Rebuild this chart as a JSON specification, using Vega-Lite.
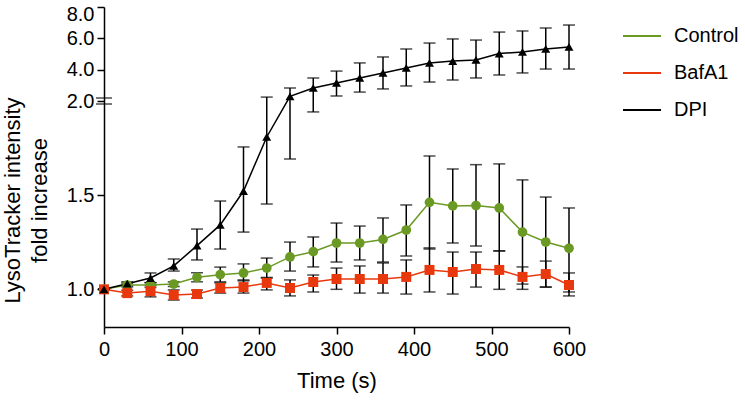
{
  "$schema": "https://vega.github.io/schema/vega-lite/v6.json",
  "width": 465,
  "height": 320,
  "autosize": {"type": "none"},
  "padding": {"left": 104, "top": 7, "right": 176, "bottom": 78},
  "config": {
    "view": {"stroke": null},
    "font": "Liberation Sans",
    "axis": {"domainColor": "black", "domainWidth": 1.5, "tickColor": "black", "tickWidth": 1.5, "tickSize": 7, "labelColor": "black", "titleColor": "black", "labelFontSize": 20, "titleFontSize": 22, "titleFontWeight": "normal", "grid": false}
  },
  "datasets": {
    "main": [
      {"series": "Control", "t": 0, "y": 1.0, "lo": 1.0, "hi": 1.0},
      {"series": "Control", "t": 30, "y": 1.023, "lo": 1.013, "hi": 1.033},
      {"series": "Control", "t": 60, "y": 1.023, "lo": 1.01, "hi": 1.036},
      {"series": "Control", "t": 90, "y": 1.028, "lo": 1.015, "hi": 1.04},
      {"series": "Control", "t": 120, "y": 1.064, "lo": 1.04, "hi": 1.088},
      {"series": "Control", "t": 150, "y": 1.078, "lo": 1.04, "hi": 1.118},
      {"series": "Control", "t": 180, "y": 1.087, "lo": 1.045, "hi": 1.135},
      {"series": "Control", "t": 210, "y": 1.113, "lo": 1.063, "hi": 1.166},
      {"series": "Control", "t": 240, "y": 1.172, "lo": 1.097, "hi": 1.251},
      {"series": "Control", "t": 270, "y": 1.2, "lo": 1.119, "hi": 1.278},
      {"series": "Control", "t": 300, "y": 1.246, "lo": 1.145, "hi": 1.352},
      {"series": "Control", "t": 330, "y": 1.246, "lo": 1.156, "hi": 1.336},
      {"series": "Control", "t": 360, "y": 1.265, "lo": 1.145, "hi": 1.379},
      {"series": "Control", "t": 390, "y": 1.315, "lo": 1.177, "hi": 1.448},
      {"series": "Control", "t": 420, "y": 1.462, "lo": 1.214, "hi": 1.708},
      {"series": "Control", "t": 450, "y": 1.443, "lo": 1.246, "hi": 1.639},
      {"series": "Control", "t": 480, "y": 1.445, "lo": 1.23, "hi": 1.662},
      {"series": "Control", "t": 510, "y": 1.432, "lo": 1.204, "hi": 1.666},
      {"series": "Control", "t": 540, "y": 1.304, "lo": 1.028, "hi": 1.581},
      {"series": "Control", "t": 570, "y": 1.251, "lo": 1.012, "hi": 1.49},
      {"series": "Control", "t": 600, "y": 1.218, "lo": 0.986, "hi": 1.432},
      {"series": "BafA1", "t": 0, "y": 1.0, "lo": 1.0, "hi": 1.0},
      {"series": "BafA1", "t": 30, "y": 0.98, "lo": 0.965, "hi": 0.995},
      {"series": "BafA1", "t": 60, "y": 0.99, "lo": 0.96, "hi": 1.02},
      {"series": "BafA1", "t": 90, "y": 0.97, "lo": 0.943, "hi": 0.997},
      {"series": "BafA1", "t": 120, "y": 0.975, "lo": 0.954, "hi": 0.996},
      {"series": "BafA1", "t": 150, "y": 1.007, "lo": 0.98, "hi": 1.034},
      {"series": "BafA1", "t": 180, "y": 1.012, "lo": 0.98, "hi": 1.05},
      {"series": "BafA1", "t": 210, "y": 1.034, "lo": 0.997, "hi": 1.06},
      {"series": "BafA1", "t": 240, "y": 1.007, "lo": 0.965, "hi": 1.05},
      {"series": "BafA1", "t": 270, "y": 1.039, "lo": 0.986, "hi": 1.076},
      {"series": "BafA1", "t": 300, "y": 1.055, "lo": 1.0, "hi": 1.113},
      {"series": "BafA1", "t": 330, "y": 1.055, "lo": 0.98, "hi": 1.124},
      {"series": "BafA1", "t": 360, "y": 1.055, "lo": 0.98, "hi": 1.14},
      {"series": "BafA1", "t": 390, "y": 1.066, "lo": 0.975, "hi": 1.156},
      {"series": "BafA1", "t": 420, "y": 1.103, "lo": 0.986, "hi": 1.22},
      {"series": "BafA1", "t": 450, "y": 1.092, "lo": 0.975, "hi": 1.198},
      {"series": "BafA1", "t": 480, "y": 1.108, "lo": 1.012, "hi": 1.198},
      {"series": "BafA1", "t": 510, "y": 1.103, "lo": 1.0, "hi": 1.204},
      {"series": "BafA1", "t": 540, "y": 1.066, "lo": 1.0, "hi": 1.119},
      {"series": "BafA1", "t": 570, "y": 1.081, "lo": 1.012, "hi": 1.15},
      {"series": "BafA1", "t": 600, "y": 1.023, "lo": 0.965, "hi": 1.087},
      {"series": "DPI", "t": 0, "y": 1.0, "lo": 1.0, "hi": 1.0},
      {"series": "DPI", "t": 30, "y": 1.03, "lo": 1.02, "hi": 1.04},
      {"series": "DPI", "t": 60, "y": 1.06, "lo": 1.035, "hi": 1.087},
      {"series": "DPI", "t": 90, "y": 1.125, "lo": 1.097, "hi": 1.161},
      {"series": "DPI", "t": 120, "y": 1.232, "lo": 1.156, "hi": 1.32},
      {"series": "DPI", "t": 150, "y": 1.342, "lo": 1.214, "hi": 1.469},
      {"series": "DPI", "t": 180, "y": 1.522, "lo": 1.304, "hi": 1.756},
      {"series": "DPI", "t": 210, "y": 1.809, "lo": 1.453, "hi": 2.25},
      {"series": "DPI", "t": 240, "y": 2.3, "lo": 1.692, "hi": 2.83},
      {"series": "DPI", "t": 270, "y": 2.83, "lo": 1.942, "hi": 3.47},
      {"series": "DPI", "t": 300, "y": 3.15, "lo": 2.32, "hi": 3.91},
      {"series": "DPI", "t": 330, "y": 3.47, "lo": 2.57, "hi": 4.43},
      {"series": "DPI", "t": 360, "y": 3.79, "lo": 2.77, "hi": 4.81},
      {"series": "DPI", "t": 390, "y": 4.11, "lo": 2.96, "hi": 5.32},
      {"series": "DPI", "t": 420, "y": 4.43, "lo": 3.21, "hi": 5.7},
      {"series": "DPI", "t": 450, "y": 4.55, "lo": 3.34, "hi": 5.96},
      {"series": "DPI", "t": 480, "y": 4.62, "lo": 3.47, "hi": 5.89},
      {"series": "DPI", "t": 510, "y": 5.03, "lo": 3.66, "hi": 6.4},
      {"series": "DPI", "t": 540, "y": 5.13, "lo": 3.79, "hi": 6.47},
      {"series": "DPI", "t": 570, "y": 5.32, "lo": 4.04, "hi": 6.66},
      {"series": "DPI", "t": 600, "y": 5.45, "lo": 4.04, "hi": 6.85}
    ],
    "brk": [{"t": 0, "y": 2.0}]
  },
  "data": {"name": "main"},
  "encoding": {
    "x": {"field": "t", "type": "quantitative", "scale": {"domain": [0, 600], "nice": false, "zero": false},
      "axis": {"values": [0, 100, 200, 300, 400, 500, 600], "title": "Time (s)", "labelPadding": 5, "titlePadding": 11, "labelFlush": false}}
  },
  "layer": [
    {
      "mark": {"type": "rule", "color": "black", "strokeWidth": 1.5},
      "encoding": {
        "y": {"field": "lo", "type": "quantitative",
          "scale": {"type": "linear", "domain": [0.8, 2.0, 8.0], "range": [320, 94, 0], "nice": false, "zero": false},
          "axis": {"values": [1.0, 1.5, 2.0, 4.0, 6.0, 8.0], "format": ".1f", "title": ["LysoTracker intensity", "fold increase"], "titlePadding": 15, "titleY": 193, "labelPadding": 3, "labelFlush": true, "labelFlushOffset": 3, "titleLineHeight": 27}},
        "y2": {"field": "hi"}
      }
    },
    {
      "mark": {"type": "tick", "color": "black", "orient": "horizontal", "size": 12, "thickness": 1.5},
      "encoding": {"y": {"field": "lo", "type": "quantitative"}}
    },
    {
      "mark": {"type": "tick", "color": "black", "orient": "horizontal", "size": 12, "thickness": 1.5},
      "encoding": {"y": {"field": "hi", "type": "quantitative"}}
    },
    {
      "mark": {"type": "line", "strokeWidth": 1.5},
      "encoding": {
        "y": {"field": "y", "type": "quantitative"},
        "color": {"field": "series", "type": "nominal",
          "scale": {"domain": ["Control", "BafA1", "DPI"], "range": ["#6a9a23", "#e8380d", "#000000"]},
          "legend": {"title": null, "orient": "none", "legendX": 518, "legendY": 9, "symbolType": "stroke", "symbolSize": 1444, "symbolStrokeWidth": 2, "labelFontSize": 20, "labelColor": "black", "labelOffset": 12, "rowPadding": 7, "padding": 0}}
      }
    },
    {
      "transform": [{"filter": "datum.series === 'Control'"}],
      "mark": {"type": "point", "shape": "circle", "filled": true, "opacity": 1, "size": 95, "color": "#6a9a23"},
      "encoding": {"y": {"field": "y", "type": "quantitative"}}
    },
    {
      "transform": [{"filter": "datum.series === 'BafA1'"}],
      "mark": {"type": "point", "shape": "square", "filled": true, "opacity": 1, "size": 100, "color": "#e8380d"},
      "encoding": {"y": {"field": "y", "type": "quantitative"}}
    },
    {
      "transform": [{"filter": "datum.series === 'DPI'"}],
      "mark": {"type": "point", "shape": "triangle-up", "filled": true, "opacity": 1, "size": 80, "color": "#000000"},
      "encoding": {"y": {"field": "y", "type": "quantitative"}}
    },
    {
      "data": {"name": "brk"},
      "mark": {"type": "tick", "color": "black", "orient": "horizontal", "size": 16, "thickness": 1.5, "yOffset": -3},
      "encoding": {"y": {"field": "y", "type": "quantitative"}}
    },
    {
      "data": {"name": "brk"},
      "mark": {"type": "tick", "color": "black", "orient": "horizontal", "size": 16, "thickness": 1.5, "yOffset": 3},
      "encoding": {"y": {"field": "y", "type": "quantitative"}}
    }
  ]
}
